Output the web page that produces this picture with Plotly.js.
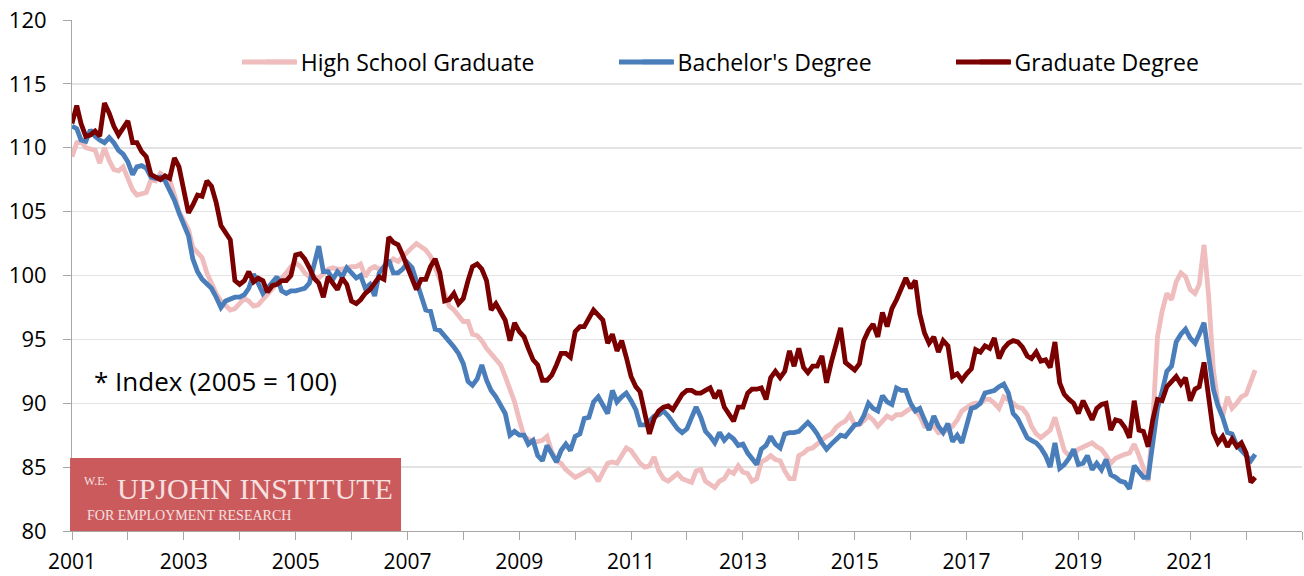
<!DOCTYPE html>
<html>
<head>
<meta charset="utf-8">
<script src="https://cdn.plot.ly/plotly-3.0.1.min.js"></script>
<style>html,body{margin:0;padding:0;background:#fff;}#chart{width:1304px;height:576px;}</style>
</head>
<body>
<div id="chart"></div>
<script>
// Monthly index values (2005 = 100), January 2001 onward
const seriesNames = ["High School Graduate", "Bachelor's Degree", "Graduate Degree"];
const firstYear = 2001;

const highSchool = [
109.3,110.4,110.5,110.0,109.9,109.8,108.8,110.0,109.0,108.3,
108.2,108.5,107.6,106.7,106.3,106.4,106.5,107.5,107.4,108.0,
107.8,107.5,106.3,105.0,104.3,103.6,102.2,101.8,101.4,100.2,
99.4,98.6,98.0,97.6,97.3,97.4,97.8,98.2,98.0,97.6,
97.7,98.1,98.5,98.9,99.3,99.7,100.2,100.7,101.0,100.7,
100.2,99.9,99.9,99.8,100.1,100.5,100.6,100.5,100.5,100.6,
100.7,100.7,100.9,99.9,100.5,100.7,100.5,100.6,101.0,101.3,
101.1,101.5,101.9,102.2,102.5,102.3,102.0,101.5,100.7,99.7,
98.6,97.6,97.3,96.8,96.4,96.4,95.4,95.3,94.9,94.3,
93.9,93.5,93.0,92.1,91.0,90.1,88.7,87.4,87.2,87.0,
87.0,87.1,87.4,86.2,85.5,85.3,84.8,84.5,84.2,84.4,
84.6,84.8,84.5,83.9,84.6,85.3,85.4,85.3,85.9,86.5,
86.3,85.8,85.3,85.0,85.1,85.8,84.7,84.1,83.9,84.2,
84.5,84.1,83.9,83.8,84.7,84.8,83.9,83.7,83.4,83.9,
84.1,84.7,84.5,85.1,84.6,84.5,83.9,84.1,85.4,85.6,
85.9,85.6,85.5,84.7,84.1,84.1,85.9,86.1,86.4,86.5,
86.8,87.2,87.4,87.6,88.1,88.4,88.6,89.1,88.3,88.3,
88.7,89.0,88.7,88.2,88.6,89.0,88.8,89.1,89.1,89.4,
89.6,89.5,89.0,88.2,88.1,88.2,87.7,87.8,87.9,88.2,
88.7,89.4,89.7,89.9,90.0,90.0,90.3,90.3,90.0,89.6,
90.5,90.3,90.0,89.7,89.6,89.1,88.2,87.6,87.3,87.6,
87.9,88.9,87.4,86.3,85.9,86.0,86.4,86.6,86.8,86.9,
86.6,86.4,85.9,85.3,85.7,85.9,86.0,86.1,86.8,85.9,
84.8,83.9,88.5,95.2,97.2,98.6,98.1,99.5,100.2,99.9,
98.9,98.6,99.3,102.4,98.4,92.6,90.0,89.0,90.5,89.6,
90.0,90.5,90.7,91.7,92.6
];

const bachelors = [
111.7,111.5,110.6,110.5,111.4,110.9,110.6,110.4,110.8,110.4,
109.8,109.5,108.9,107.9,108.5,108.6,108.4,107.7,107.6,107.7,
107.4,106.7,105.9,104.9,104.1,103.1,101.3,100.3,99.7,99.3,
99.0,98.3,97.5,98.0,98.2,98.3,98.3,98.5,99.0,100.1,
99.4,98.6,99.0,99.4,99.9,98.8,98.6,98.8,98.8,98.9,
99.0,99.4,100.7,102.3,100.3,100.3,99.7,100.3,99.9,100.6,
100.2,99.8,100.0,99.0,99.3,98.4,100.2,100.7,101.2,100.2,
100.2,100.5,101.0,100.6,99.6,98.4,97.3,97.2,95.8,95.7,
95.3,94.9,94.4,93.9,93.1,91.7,91.4,91.9,93.0,91.8,
91.0,90.5,89.8,89.2,87.5,87.8,87.5,87.5,86.8,87.1,
85.9,85.5,86.7,86.1,85.4,86.3,86.8,86.3,87.4,87.6,
88.8,88.9,90.1,90.5,89.8,89.2,91.0,90.1,90.5,90.8,
90.2,89.5,88.3,88.3,88.6,89.0,89.1,89.4,89.0,88.5,
88.0,87.7,88.0,88.9,89.7,88.9,87.8,87.4,86.9,87.7,
87.1,87.5,87.2,86.7,86.8,86.1,85.6,85.2,86.4,86.7,
87.4,86.8,86.5,87.6,87.7,87.7,87.8,88.2,88.5,88.1,
87.6,86.9,86.4,86.8,87.2,87.5,87.4,87.9,88.3,88.4,
89.0,90.0,89.6,89.4,90.6,90.1,89.9,91.2,91.0,91.0,
90.0,89.4,89.6,88.7,87.9,89.0,88.2,87.7,88.4,87.0,
87.5,86.9,88.3,89.6,89.7,90.0,90.8,90.9,91.0,91.3,
91.5,90.8,89.2,88.8,88.1,87.3,87.1,86.9,86.5,85.9,
85.0,86.9,84.9,85.2,85.7,86.4,85.2,85.3,85.9,84.8,
85.3,84.8,85.6,84.4,84.2,83.9,83.8,83.3,85.1,84.7,
84.2,84.2,86.6,89.6,90.9,92.5,92.9,94.8,95.4,95.8,
95.1,94.7,95.4,96.3,93.7,91.1,89.8,88.9,87.7,87.6,
86.7,86.3,85.9,85.5,86.0
];

const graduate = [
111.9,113.3,111.9,110.9,111.0,111.3,110.9,113.5,112.7,111.7,
111.0,111.5,112.1,110.4,110.4,109.7,109.3,107.9,107.7,107.5,
107.8,107.6,109.2,108.5,106.7,104.9,105.5,106.3,106.2,107.4,
107.0,105.7,103.9,103.3,102.8,99.6,99.3,99.6,100.3,99.5,
99.8,99.6,98.7,99.2,99.3,99.6,99.6,100.0,101.6,101.7,
101.3,100.6,99.8,99.4,98.3,99.9,99.4,98.9,99.8,99.3,
98.0,97.8,98.1,98.6,98.9,99.4,99.9,99.7,103.0,102.6,
102.4,101.6,100.6,99.6,98.9,99.7,99.7,100.7,101.3,100.2,
98.0,98.1,98.6,97.8,98.2,99.6,100.7,100.9,100.5,99.6,
97.3,97.8,97.1,96.5,94.9,96.3,95.6,95.2,94.3,93.4,
93.0,91.8,91.8,92.2,93.0,93.9,93.9,93.6,95.6,96.0,
96.0,96.7,97.3,96.9,96.5,94.7,95.4,94.1,94.9,93.6,
92.1,91.3,90.9,89.2,87.6,88.8,89.4,89.7,89.8,89.5,
90.2,90.7,91.0,91.0,90.8,90.8,91.0,91.2,90.4,91.0,
89.7,89.1,88.6,89.7,89.7,90.8,91.1,91.1,91.2,90.3,
92.0,92.5,92.0,92.5,94.1,92.9,94.3,92.8,92.4,92.9,
92.9,93.7,91.6,93.2,94.5,95.9,93.2,92.9,92.6,93.1,
94.9,95.7,96.2,95.2,97.1,96.0,97.4,98.1,99.1,99.8,
99.0,99.6,97.0,95.5,94.7,95.2,94.0,94.9,94.5,92.1,
92.3,91.8,92.3,92.7,94.2,94.0,94.5,94.3,95.1,93.5,
94.3,94.7,94.9,94.8,94.4,93.7,93.5,94.0,93.3,93.4,
92.8,94.8,91.6,90.7,90.3,90.0,89.2,90.2,89.5,88.7,
89.6,89.9,90.0,87.9,88.7,88.6,88.1,87.3,90.2,87.9,
87.8,86.6,88.7,90.3,90.2,91.3,91.7,92.1,91.5,92.0,
90.2,91.1,91.3,93.2,90.5,87.7,86.9,87.4,86.6,87.2,
86.6,86.9,86.1,83.8,84.2
];

// Axis ticks: every year marked, every other year labelled
const tickYears = [2001,2002,2003,2004,2005,2006,2007,2008,2009,2010,2011,2012,2013,2014,2015,2016,2017,2018,2019,2020,2021,2022,2023];
const tickLabels = ["2001","","2003","","2005","","2007","","2009","","2011","","2013","","2015","","2017","","2019","","2021","",""];

function monthDates(n) {
  const out = [];
  for (let i = 0; i < n; i++) {
    const y = firstYear + Math.floor(i / 12);
    const m = (i % 12) + 1;
    out.push(y + "-" + String(m).padStart(2, "0") + "-01");
  }
  return out;
}

const colors = ["#efbdbd", "#4a7ebb", "#7a0000"];
const seriesData = [highSchool, bachelors, graduate];
const legendIds = ["legend", "legend2", "legend3"];

const traces = seriesData.map((vals, k) => ({
  type: "scatter",
  mode: "lines",
  name: seriesNames[k],
  x: monthDates(vals.length),
  y: vals,
  line: {color: colors[k], width: 4.8},
  legend: legendIds[k],
  hoverinfo: "x+y+name"
}));

const F = "'Open Sans', 'Noto Sans', sans-serif";
const legendY = 0.918;
const legendBase = {orientation: "h", y: legendY, yanchor: "middle", xanchor: "left",
  font: {family: F, size: 23, color: "#000"}, bgcolor: "rgba(0,0,0,0)", borderwidth: 0};

// legend key line extents (paper fractions)
const keyStarts = [0.1382, 0.4447, 0.7187];
const keyEnds = [0.1829, 0.4894, 0.7634];
const keyShapes = keyStarts.map((x0, k) => ({
  type: "line", xref: "paper", yref: "paper", x0: x0, x1: keyEnds[k], y0: legendY, y1: legendY,
  line: {color: colors[k], width: 5}, layer: "above"
}));

const layout = {
  width: 1304, height: 576,
  margin: {l: 72, r: 2, t: 20, b: 45, pad: 0},
  paper_bgcolor: "#ffffff", plot_bgcolor: "#ffffff",
  showlegend: true,
  legend: Object.assign({}, legendBase, {x: 0.1535}),
  legend2: Object.assign({}, legendBase, {x: 0.4598}),
  legend3: Object.assign({}, legendBase, {x: 0.7338}),
  xaxis: {
    type: "date",
    range: ["2001-01-01", "2023-01-01"],
    tickvals: tickYears.map(y => y + "-01-01"),
    ticktext: tickLabels,
    ticks: "outside", ticklen: 8, tickwidth: 1, tickcolor: "#a6a6a6",
    showline: true, linecolor: "#a6a6a6", linewidth: 1,
    showgrid: false, zeroline: false,
    ticklabelstandoff: 4,
    tickfont: {family: F, size: 21, color: "#000"}
  },
  yaxis: {
    range: [80, 120], dtick: 5, tick0: 80,
    ticks: "outside", ticklen: 8, tickwidth: 1, tickcolor: "#a6a6a6",
    showline: true, linecolor: "#a6a6a6", linewidth: 1,
    showgrid: true, gridcolor: "#e3e3e3", gridwidth: 1.5,
    zeroline: false,
    ticklabelstandoff: 12,
    tickfont: {family: F, size: 22, color: "#000"}
  },
  shapes: [
    {type: "rect", xref: "paper", yref: "paper", x0: -0.0016, x1: 0.2675, y0: 0, y1: 0.143,
     fillcolor: "#cb5a5c", line: {width: 0}, layer: "above"}
  ].concat(keyShapes),
  annotations: [
    {xref: "paper", yref: "paper", x: 0.0163, y: 0.2935, xanchor: "left", yanchor: "middle",
     text: "* Index (2005 = 100)", showarrow: false, font: {family: F, size: 26, color: "#000"}},
    {xref: "paper", yref: "paper", x: 0.0085, y: 0.098, xanchor: "left", yanchor: "middle",
     text: "W.E.", showarrow: false, font: {family: "'Liberation Serif', serif", size: 12, color: "#f6e0e0"}},
    {xref: "paper", yref: "paper", x: 0.035, y: 0.083, xanchor: "left", yanchor: "middle",
     text: "UPJOHN INSTITUTE", showarrow: false, font: {family: "'Liberation Serif', serif", size: 30, color: "#f6e0e0"}},
    {xref: "paper", yref: "paper", x: 0.0105, y: 0.030, xanchor: "left", yanchor: "middle",
     text: "FOR EMPLOYMENT RESEARCH", showarrow: false, font: {family: "'Liberation Serif', serif", size: 14, color: "#f6e0e0"}}
  ]
};

Plotly.newPlot("chart", traces, layout, {staticPlot: true, displayModeBar: false});
</script>
</body>
</html>
